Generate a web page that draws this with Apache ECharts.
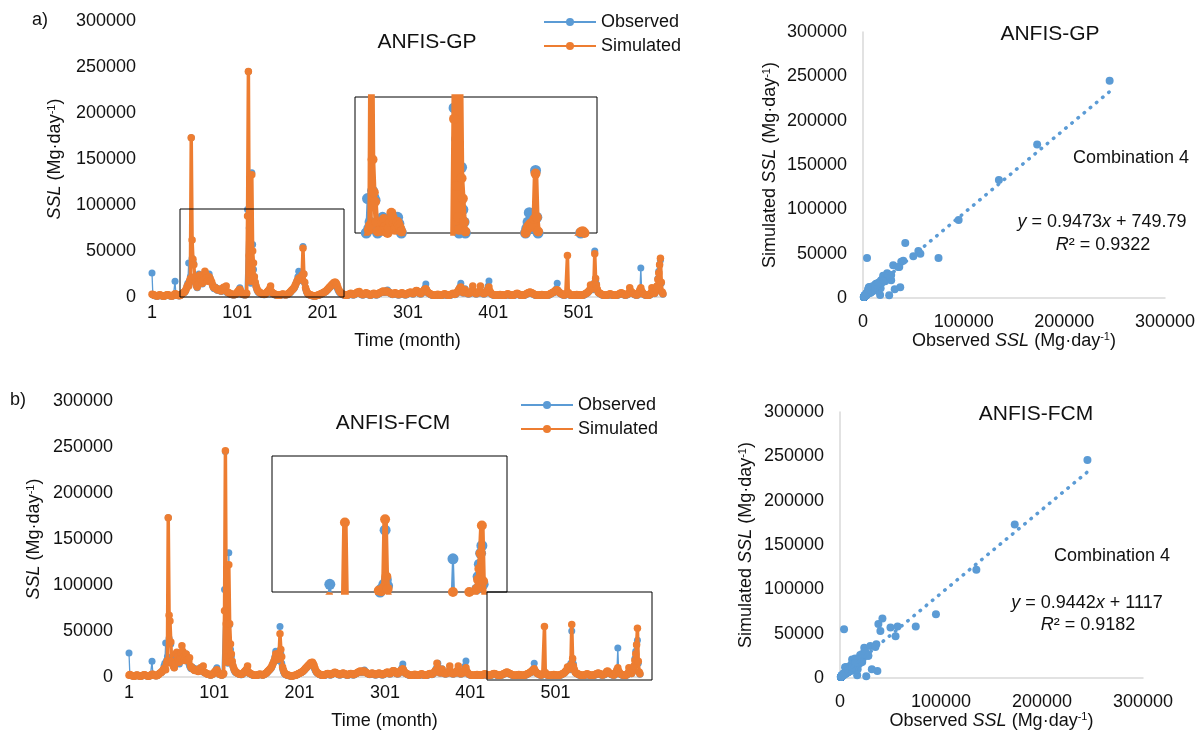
<!DOCTYPE html>
<html>
<head>
<meta charset="utf-8">
<script src="https://cdn.jsdelivr.net/npm/echarts@6/dist/echarts.min.js"></script>
<style>
  html, body { margin: 0; padding: 0; background: #fff; }
  #main { width: 1202px; height: 731px; }
</style>
</head>
<body>
<div id="main"></div>
<script>
// monthly suspended sediment load (Mg/day), month 1..600
const observed = [
  26000, 2500, 1800, 1500, 1200, 1000, 900, 1100, 1600, 2200, 1800, 1300, 1000, 900, 800, 1200, 1500, 2000, 2400, 1900,
  1500, 1200, 1000, 900, 1100, 1400, 2500, 17000, 3000, 2000, 1500, 1300, 1200, 1500, 2200, 3000, 4000, 4500, 5000, 6000,
  8000, 12000, 15000, 37000, 18000, 22000, 173000, 42000, 38000, 36000, 20000, 15000, 12000, 10000, 14000, 25000, 22000, 18000, 16000, 14000,
  17000, 20000, 24000, 26000, 22000, 18000, 20000, 25000, 21000, 17000, 15000, 12000, 10000, 9000, 11000, 10000, 8000, 7000, 9000, 8000,
  7000, 6000, 6500, 9000, 10000, 8000, 7000, 6000, 5000, 4500, 4000, 3500, 3000, 2800, 2500, 2300, 2000, 2500, 3000, 4000,
  5000, 6000, 8000, 10000, 6000, 4000, 3000, 2500, 2200, 2000, 2500, 3500, 95000, 245000, 75000, 20000, 15000, 135000, 57000, 30000,
  22000, 15000, 11000, 8000, 6000, 5000, 4500, 4000, 3500, 3000, 2800, 2500, 2500, 3000, 4000, 5000, 6000, 7000, 8000, 6000,
  5000, 4000, 3500, 3000, 2500, 2000, 1800, 1600, 1500, 1500, 1800, 2000, 2500, 3000, 2800, 2500, 2200, 2000, 2500, 3000,
  3500, 4000, 5000, 6000, 7000, 8000, 9000, 10000, 12000, 15000, 18000, 22000, 28000, 22000, 18000, 20000, 25000, 55000, 25000, 15000,
  9000, 6000, 4000, 3000, 2500, 2000, 1800, 1500, 1200, 1000, 1000, 900, 1100, 1300, 1500, 1800, 2000, 2500, 3000, 3500,
  4000, 4500, 5000, 5500, 6000, 7000, 8000, 9000, 10000, 11000, 12000, 13000, 14000, 15000, 14000, 13000, 12000, 10000, 8000, 6000,
  5000, 4000, 3500, 3000, 2500, 2000, 1800, 1500, 1500, 1800, 2000, 2500, 3000, 3500, 3000, 2500, 2000, 2500, 3000, 3500,
  4000, 5000, 4500, 4000, 3500, 3000, 2500, 2000, 2500, 3000, 3500, 4000, 3500, 3000, 2500, 2000, 1800, 2000, 2500, 3000,
  3500, 3000, 2500, 2000, 2500, 3000, 3500, 4000, 4500, 5000, 5500, 6000, 5500, 5000, 6000, 7000, 7600, 6000, 5000, 4000,
  3500, 3000, 2500, 3000, 3500, 4000, 3500, 3000, 2500, 2000, 2500, 3000, 3500, 4000, 3500, 3000, 2500, 2000, 2500, 3000,
  3500, 4000, 4500, 5000, 4000, 3500, 3000, 4000, 5000, 6000, 7000, 6000, 5000, 4000, 3500, 3000, 4000, 5000, 6000, 8000,
  10000, 14000, 8000, 5000, 4000, 3500, 3000, 2500, 2000, 1800, 1600, 1500, 1500, 1800, 2000, 2500, 2000, 1800, 1500, 1600,
  1800, 2000, 2500, 3000, 2500, 2000, 1800, 1600, 1500, 1800, 2000, 2500, 3000, 3500, 3000, 2500, 3000, 4000, 5000, 7000,
  9000, 11000, 15000, 8000, 5000, 4000, 6000, 9000, 5000, 4000, 3500, 3000, 3500, 4000, 5000, 6000, 8000, 6000, 4000, 3500,
  3000, 3500, 4000, 5000, 6000, 7000, 5000, 4000, 3500, 3000, 3500, 4000, 5000, 8000, 12000, 17500, 6000, 4000, 3000, 2500,
  2000, 1800, 1600, 1500, 1500, 1600, 1800, 2000, 2200, 2000, 1800, 1600, 1500, 1500, 1800, 2000, 2500, 3000, 2500, 2000,
  1800, 1600, 1500, 1500, 1800, 2000, 2500, 3000, 3500, 3000, 2500, 2000, 1800, 1600, 1500, 1500, 1800, 2000, 2500, 3000,
  3500, 4000, 4500, 5000, 4500, 4000, 3500, 3000, 2500, 2000, 1800, 1600, 1500, 1500, 1600, 1800, 2000, 2200, 2000, 1800,
  1600, 1500, 1500, 1600, 1800, 2000, 2500, 3000, 3500, 4000, 4500, 5000, 6000, 7000, 9000, 15000, 7000, 5000, 4000, 3500,
  3000, 2500, 2000, 1800, 2000, 2500, 3000, 4000, 3000, 2500, 2000, 1800, 1600, 1500, 1500, 1600, 1800, 2000, 2200, 2000,
  1800, 1600, 1500, 1500, 1600, 1800, 2000, 2500, 3000, 3500, 4000, 5000, 6000, 7000, 9000, 10000, 12000, 8000, 15000, 50000,
  18000, 14000, 8000, 5000, 4000, 3500, 3000, 2500, 2000, 1800, 1600, 1500, 1500, 1600, 1800, 2000, 2500, 3000, 2500, 2000,
  1800, 1600, 1500, 1500, 1600, 1800, 2000, 2500, 3000, 3500, 4000, 3500, 3000, 2500, 2000, 1800, 2000, 2500, 3000, 4000,
  5000, 6000, 5000, 4000, 3500, 3000, 2500, 2000, 1800, 2000, 3000, 5000, 8000, 31500, 6000, 4000, 3000, 2500, 2000, 1800,
  1600, 1500, 1500, 1800, 2500, 4000, 6000, 5000, 4000, 3500, 5000, 8000, 12000, 20000, 28000, 35000, 40000, 15000, 5000, 3000
];

const simulatedGP = [
  3000, 2800, 2200, 1800, 1500, 1300, 1200, 1300, 1800, 2400, 2000, 1600, 1300, 1200, 1100, 1400, 1700, 2200, 2500, 2100,
  1800, 1500, 1300, 1200, 1300, 1600, 2600, 3500, 3200, 2300, 1800, 1600, 1500, 1700, 2400, 3200, 4200, 4800, 5500, 6500,
  8500, 11000, 13000, 12000, 17000, 20000, 173000, 62000, 41000, 35000, 22000, 16000, 13000, 11000, 13000, 22000, 24000, 19000, 17000, 15000,
  18000, 22000, 28000, 25000, 21000, 17000, 19000, 22000, 20000, 18000, 16000, 13000, 11000, 10000, 10000, 9500, 8500, 7500, 8500, 8000,
  7500, 6500, 7000, 9500, 10500, 9000, 8000, 12000, 6000, 5000, 4500, 4000, 3500, 3000, 2800, 2600, 2400, 2800, 3300, 4200,
  5200, 6200, 7500, 8500, 6500, 4500, 3500, 3000, 2600, 2400, 2800, 4000, 88000, 245000, 45000, 25000, 17000, 133000, 50000, 37000,
  22000, 16000, 12000, 9000, 7000, 6000, 5000, 4500, 4000, 3500, 3200, 3000, 3000, 3500, 4500, 5500, 6500, 7500, 9000, 12000,
  6000, 4500, 4000, 3500, 3000, 2600, 2300, 2000, 1900, 1900, 2100, 2400, 2800, 3200, 3000, 2800, 2500, 2400, 2800, 3300,
  3800, 4500, 5500, 6500, 7500, 8500, 9500, 11000, 13000, 15000, 17000, 19000, 20000, 21000, 19000, 20000, 24000, 53000, 25000, 16000,
  10000, 7000, 5000, 3500, 3000, 2500, 2200, 1900, 1600, 1400, 1300, 1200, 1400, 1600, 1800, 2100, 2400, 2900, 3400, 3900,
  4300, 4800, 5300, 5800, 6500, 7500, 8500, 9500, 10500, 11500, 12500, 13500, 14500, 15500, 16000, 16000, 15000, 13000, 10000, 7500,
  6000, 5000, 4000, 3500, 3000, 2500, 2200, 2000, 2000, 2200, 2500, 3000, 3500, 4000, 3500, 3000, 2500, 3000, 3500, 4000,
  4500, 5500, 5000, 6000, 4000, 3500, 3000, 2500, 3000, 3500, 4000, 4500, 4000, 3500, 3000, 2500, 2300, 2500, 3000, 3500,
  4000, 3500, 3000, 2500, 3000, 3500, 4000, 4500, 5000, 5500, 6000, 6500, 6000, 5500, 6000, 6500, 6000, 5500, 5000, 4500,
  4000, 3500, 3000, 3500, 4000, 4500, 4000, 3500, 3000, 2500, 3000, 3500, 4000, 4500, 4000, 3500, 3000, 2500, 3000, 3500,
  4000, 4500, 5000, 5500, 4500, 4000, 3500, 4500, 5500, 6500, 7000, 6500, 5500, 4500, 4000, 3500, 4500, 5500, 6500, 7500,
  8500, 9000, 7000, 5500, 4500, 4000, 3500, 3000, 2500, 2300, 2100, 2000, 2000, 2300, 2500, 3000, 2500, 2300, 2000, 2100,
  2300, 2500, 3000, 3500, 3000, 2500, 2300, 2100, 2000, 2300, 2500, 3000, 3500, 4000, 3500, 3000, 3500, 4500, 5500, 7000,
  8500, 10000, 11000, 7500, 5500, 4500, 6000, 8000, 5500, 4500, 4000, 3500, 4000, 4500, 5500, 6500, 12000, 6500, 4500, 4000,
  3500, 4000, 4500, 5500, 6500, 12000, 5500, 4500, 4000, 3500, 4000, 4500, 5500, 7000, 9000, 11000, 6500, 4500, 3500, 3000,
  2500, 2300, 2100, 2000, 2000, 2100, 2300, 2500, 2700, 2500, 2300, 2100, 2000, 2000, 2300, 2500, 3000, 3500, 3000, 2500,
  2300, 2100, 2000, 2000, 2300, 2500, 3000, 3500, 4000, 3500, 3000, 2500, 2300, 2100, 2000, 2000, 2300, 2500, 3000, 3500,
  4000, 4500, 5000, 5500, 5000, 4500, 4000, 3500, 3000, 2500, 2300, 2100, 2000, 2000, 2100, 2300, 2500, 2700, 2500, 2300,
  2100, 2000, 2000, 2100, 2300, 2500, 3000, 3500, 4000, 4500, 5000, 5500, 6500, 7000, 7500, 8000, 6500, 5500, 4500, 4000,
  3500, 3000, 2500, 2300, 2500, 3000, 3500, 45000, 5000, 3000, 2500, 2300, 2100, 2000, 2000, 2100, 2300, 2500, 2700, 2500,
  2300, 2100, 2000, 2000, 2100, 2300, 2500, 3000, 3500, 4000, 4500, 5500, 6500, 7500, 13000, 10000, 11000, 9000, 14000, 47000,
  20000, 13000, 8500, 5500, 4500, 4000, 3500, 3000, 2500, 2300, 2100, 2000, 2000, 2100, 2300, 2500, 3000, 3500, 3000, 2500,
  2300, 2100, 2000, 2000, 2100, 2300, 2500, 3000, 3500, 4000, 4500, 4000, 3500, 3000, 2500, 2300, 2500, 3000, 3500, 4500,
  10000, 6500, 5500, 4500, 4000, 3500, 3000, 2500, 2300, 2500, 3500, 5500, 8000, 10000, 6500, 4500, 3500, 3000, 2500, 2300,
  2100, 2000, 2000, 2300, 3000, 4500, 10000, 5500, 4500, 4000, 5500, 8500, 12000, 19000, 26000, 35000, 42000, 16000, 5500, 3500
];

const simulatedFCM = [
  2000, 2600, 2000, 1700, 1400, 1200, 1100, 1200, 1700, 2300, 1900, 1500, 1200, 1100, 1000, 1300, 1600, 2100, 2400, 2000,
  1700, 1400, 1200, 1100, 1200, 1500, 2500, 3000, 3000, 2200, 1700, 1500, 1400, 1600, 2300, 3100, 4000, 4600, 5200, 6200,
  7500, 9000, 10000, 8000, 15000, 18000, 173000, 67000, 61000, 38000, 17000, 14000, 12000, 10000, 14000, 25000, 27000, 22000, 18000, 16000,
  20000, 26000, 34000, 28000, 22000, 18000, 21000, 25000, 22000, 19000, 17000, 21000, 12000, 10000, 10000, 9000, 8000, 7000, 8000, 7500,
  7000, 6000, 6500, 9000, 10000, 8500, 7500, 12000, 5500, 4800, 4200, 3800, 3300, 2900, 2700, 2500, 2300, 2700, 3200, 4000,
  5000, 6000, 7200, 8000, 6200, 4300, 3300, 2800, 2500, 2300, 2700, 3800, 72000, 246000, 58000, 22000, 16000, 122000, 58000, 36000,
  25000, 17000, 12000, 9000, 7000, 5800, 5000, 4400, 3900, 3400, 3100, 2900, 2900, 3400, 4400, 5400, 6400, 7400, 8800, 12000,
  5800, 4400, 3900, 3400, 2900, 2500, 2200, 1900, 1800, 1800, 2000, 2300, 2700, 3100, 2900, 2700, 2400, 2300, 2700, 3200,
  3700, 4400, 5400, 6400, 7400, 8400, 9400, 11000, 13000, 15000, 17000, 20000, 25000, 22000, 19000, 21000, 26000, 47000, 30000, 22000,
  11000, 7500, 5200, 3600, 3000, 2500, 2100, 1800, 1500, 1300, 1200, 1100, 1300, 1500, 1700, 2000, 2300, 2800, 3300, 3800,
  4200, 4700, 5200, 5700, 6400, 7400, 8400, 9400, 10400, 11400, 12400, 13400, 14400, 15400, 15800, 16000, 14500, 12500, 9500, 7200,
  5500, 4600, 3800, 3300, 2800, 2400, 2100, 1900, 1900, 2100, 2400, 2900, 3400, 3900, 3400, 2900, 2400, 2900, 3400, 3900,
  4400, 5200, 4800, 4300, 3800, 3300, 2900, 2400, 2900, 3400, 3900, 4400, 3900, 3400, 2900, 2400, 2200, 2400, 2900, 3400,
  3900, 3400, 2900, 2400, 2900, 3400, 3900, 4400, 4900, 5400, 5900, 6400, 5900, 5400, 5900, 6400, 6200, 5400, 4900, 4400,
  3900, 3400, 2900, 3400, 3900, 4400, 3900, 3400, 2900, 2400, 2900, 3400, 3900, 4400, 3900, 3400, 2900, 2400, 2900, 3400,
  3900, 4400, 4900, 5400, 4400, 3900, 3400, 4400, 5400, 6400, 6800, 6400, 5400, 4400, 3900, 3400, 4400, 5400, 6400, 7400,
  8200, 9000, 6800, 5400, 4400, 3900, 3400, 2900, 2400, 2200, 2000, 1900, 1900, 2200, 2400, 2900, 2400, 2200, 1900, 2000,
  2200, 2400, 2900, 3400, 2900, 2400, 2200, 2000, 1900, 2200, 2400, 2900, 3400, 3900, 3400, 2900, 3400, 4400, 5400, 6800,
  8000, 15000, 10000, 7000, 5200, 4300, 6000, 8500, 5200, 4300, 3800, 3400, 3800, 4300, 5200, 6200, 12000, 6200, 4300, 3800,
  3400, 3800, 4300, 5200, 6200, 7000, 12000, 4500, 3800, 3400, 3800, 4300, 5200, 6500, 8500, 10000, 6200, 4300, 3400, 2900,
  2400, 2200, 2000, 1900, 1900, 2000, 2200, 2400, 2600, 2400, 2200, 2000, 1900, 1900, 2200, 2400, 2900, 3400, 2900, 2400,
  2200, 2000, 1900, 1900, 2200, 2400, 2900, 3400, 3900, 3400, 2900, 2400, 2200, 2000, 1900, 1900, 2200, 2400, 2900, 3400,
  3900, 4400, 4900, 5400, 4900, 4400, 3900, 3400, 2900, 2400, 2200, 2000, 1900, 1900, 2000, 2200, 2400, 2600, 2400, 2200,
  2000, 1900, 1900, 2000, 2200, 2400, 2900, 3400, 3900, 4400, 4900, 5400, 6400, 7000, 7800, 9000, 6400, 5400, 4400, 3900,
  3400, 2900, 2400, 2200, 2400, 2900, 3400, 55000, 4800, 2900, 2400, 2200, 2000, 1900, 1900, 2000, 2200, 2400, 2600, 2400,
  2200, 2000, 1900, 1900, 2000, 2200, 2400, 2900, 3400, 3900, 4400, 5400, 6400, 7400, 11000, 9500, 10500, 8800, 13000, 57000,
  20000, 12000, 8200, 5400, 4400, 3900, 3400, 2900, 2400, 2200, 2000, 1900, 1900, 2000, 2200, 2400, 2900, 3400, 2900, 2400,
  2200, 2000, 1900, 1900, 2000, 2200, 2400, 2900, 3400, 3900, 4400, 3900, 3400, 2900, 2400, 2200, 2400, 2900, 3400, 4400,
  6000, 6400, 5400, 4400, 3900, 3400, 2900, 2400, 2200, 2400, 3400, 5400, 7800, 10000, 6400, 4400, 3400, 2900, 2400, 2200,
  2000, 1900, 1900, 2200, 2900, 4400, 10000, 5400, 4400, 3900, 5400, 8200, 12000, 18000, 25000, 35000, 53000, 17000, 5400, 3400
];

// linear trend lines as printed on the scatter panels
const trendGP = { slope: 0.9473, intercept: 749.79 };
const trendFCM = { slope: 0.9442, intercept: 1117 };
const trendXRange = [0, 245000];

const FONT = '"Liberation Sans", Arial, sans-serif';
const BLUE = '#5B9BD5';
const ORANGE = '#ED7D31';
const TXT = '#111';

const chart = echarts.init(document.getElementById('main'));

const toPairs = arr => arr.map((v, i) => [i, v]);
const obsPairs = toPairs(observed);
const gpPairs = toPairs(simulatedGP);
const fcmPairs = toPairs(simulatedFCM);

const supRich = {
    i: { fontStyle: 'italic', fontSize: 18, fontFamily: FONT, color: TXT },
    n: { fontSize: 18, fontFamily: FONT, color: TXT },
    s: { fontSize: 11, fontFamily: FONT, color: TXT, verticalAlign: 'top', padding: [0, 0, 6, 0] }
};

const ssl = '{i|SSL}{n| (Mg·day}{s|-1}{n|)}';

function timeX(gridIndex, show) {
    return {
        type: 'value', gridIndex: gridIndex, min: 0, max: 599, interval: 100,
        name: show ? 'Time (month)' : '', nameLocation: 'middle', nameGap: 35,
        nameTextStyle: { fontSize: 18, fontFamily: FONT, color: TXT },
        axisLine: { show: show, lineStyle: { color: '#D9D9D9', width: 1.5 } },
        axisTick: { show: false },
        splitLine: { show: false },
        axisLabel: {
            show: show, fontSize: 18, fontFamily: FONT, color: TXT, margin: 7,
            formatter: v => (v % 100 === 0 ? String(v + 1) : '')
        }
    };
}

function timeY(gridIndex, nameGap) {
    return {
        type: 'value', gridIndex: gridIndex, min: 0, max: 300000, interval: 50000,
        name: ssl, nameLocation: 'middle', nameGap: nameGap,
        nameTextStyle: { rich: supRich },
        axisLine: { show: false }, axisTick: { show: false }, splitLine: { show: false },
        axisLabel: { fontSize: 18, fontFamily: FONT, color: TXT, margin: 16, formatter: v => String(v) }
    };
}

function insetX(gridIndex, min, max) {
    return { type: 'value', gridIndex: gridIndex, min: min, max: max, show: false, splitLine: { show: false } };
}

function insetY(gridIndex, min, max) {
    return { type: 'value', gridIndex: gridIndex, min: min, max: max, show: false, splitLine: { show: false } };
}

function scatterX(gridIndex) {
    return {
        type: 'value', gridIndex: gridIndex, min: 0, max: 300000, interval: 100000,
        name: '{n|Observed }' + ssl, nameLocation: 'middle', nameGap: 33,
        nameTextStyle: { rich: supRich },
        axisLine: { lineStyle: { color: '#D9D9D9', width: 1.5 } },
        axisTick: { show: false }, splitLine: { show: false },
        axisLabel: { fontSize: 18, fontFamily: FONT, color: TXT, margin: 15, formatter: v => String(v) }
    };
}

function scatterY(gridIndex, nameGap) {
    return {
        type: 'value', gridIndex: gridIndex, min: 0, max: 300000, interval: 50000,
        name: '{n|Simulated }' + ssl, nameLocation: 'middle', nameGap: nameGap,
        nameTextStyle: { rich: supRich },
        axisLine: { show: true, lineStyle: { color: '#D9D9D9', width: 1.5 } },
        axisTick: { show: false }, splitLine: { show: false },
        axisLabel: { fontSize: 18, fontFamily: FONT, color: TXT, margin: 16, formatter: v => String(v) }
    };
}

function obsLine(axisIndex, big) {
    return {
        name: 'Observed', type: 'line', xAxisIndex: axisIndex, yAxisIndex: axisIndex,
        data: obsPairs, symbol: 'circle', symbolSize: big ? 11 : 7,
        showSymbol: true, showAllSymbol: true,
        lineStyle: { color: BLUE, width: big ? 2 : 1.3 }, itemStyle: { color: BLUE },
        z: big ? 6 : 2, animation: false
    };
}

function simLine(axisIndex, data, big) {
    return {
        name: 'Simulated', type: 'line', xAxisIndex: axisIndex, yAxisIndex: axisIndex,
        data: data, symbol: 'circle', symbolSize: big ? 10 : 7.5,
        showSymbol: true, showAllSymbol: true,
        lineStyle: { color: ORANGE, width: big ? 5.5 : 3.5 }, itemStyle: { color: ORANGE },
        z: big ? 7 : 3, animation: false
    };
}

function scatterSeries(axisIndex, sim) {
    return {
        name: 'pairs' + axisIndex, type: 'scatter', xAxisIndex: axisIndex, yAxisIndex: axisIndex,
        data: observed.map((v, i) => [v, sim[i]]),
        symbolSize: 8, itemStyle: { color: BLUE, opacity: 1 }, animation: false
    };
}

function trendSeries(axisIndex, t) {
    return {
        name: 'trend' + axisIndex, type: 'line', xAxisIndex: axisIndex, yAxisIndex: axisIndex,
        data: trendXRange.map(x => [x, t.slope * x + t.intercept]),
        showSymbol: false, symbol: 'none',
        lineStyle: { color: BLUE, width: 3.5, type: [0.5, 7.5], cap: 'round' },
        animation: false
    };
}

function label(x, y, text, size, align) {
    return {
        type: 'text', x: x, y: y, z: 20,
        style: {
            text: text, fontSize: size, fontFamily: FONT, fill: TXT,
            align: align || 'center', verticalAlign: 'middle'
        }
    };
}

function richLabel(x, y, text) {
    return {
        type: 'text', x: x, y: y, z: 20,
        style: {
            text: text, align: 'center', verticalAlign: 'middle',
            fontSize: 18, fontFamily: FONT, fill: TXT,
            rich: {
                i: { fontStyle: 'italic', fontSize: 18, fontFamily: FONT, fill: TXT }
            }
        }
    };
}

function box(x, y, w, h) {
    return {
        type: 'rect', z: 20, shape: { x: x, y: y, width: w, height: h },
        style: { fill: null, stroke: '#000', lineWidth: 1 }
    };
}

const legendBase = {
    data: ['Observed', 'Simulated'], orient: 'vertical',
    itemWidth: 52, itemHeight: 10, itemGap: 6, selectedMode: false,
    textStyle: { fontSize: 18, fontFamily: FONT, color: TXT }
};

const option = {
    backgroundColor: '#fff',
    animation: false,
    grid: [
        { left: 152, top: 21, width: 511, height: 276 },
        { left: 355, top: 97, width: 242, height: 136, show: true, backgroundColor: '#fff', borderColor: '#000', borderWidth: 1, z: 5 },
        { left: 129, top: 401, width: 511, height: 276 },
        { left: 272, top: 456, width: 235, height: 136, show: true, backgroundColor: '#fff', borderColor: '#000', borderWidth: 1, z: 5 },
        { left: 863, top: 32, width: 302, height: 266 },
        { left: 840, top: 412, width: 303, height: 266 }
    ],
    xAxis: [
        timeX(0, true),
        insetX(1, 33, 226),
        timeX(2, true),
        insetX(3, 429, 616),
        scatterX(4),
        scatterX(5)
    ],
    yAxis: [
        timeY(0, 88),
        insetY(1, 15000, 102000),
        timeY(2, 86),
        insetY(3, 10000, 98000),
        scatterY(4, 84),
        scatterY(5, 85)
    ],
    legend: [
        Object.assign({ left: 538, top: 8 }, legendBase),
        Object.assign({ left: 515, top: 391 }, legendBase)
    ],
    series: [
        obsLine(0, false), simLine(0, gpPairs, false),
        obsLine(1, true), simLine(1, gpPairs, true),
        obsLine(2, false), simLine(2, fcmPairs, false),
        obsLine(3, true), simLine(3, fcmPairs, true),
        scatterSeries(4, simulatedGP), trendSeries(4, trendGP),
        scatterSeries(5, simulatedFCM), trendSeries(5, trendFCM)
    ],
    graphic: [
        label(32, 20, 'a)', 18, 'left'),
        label(10, 400, 'b)', 18, 'left'),
        label(427, 42, 'ANFIS-GP', 21),
        label(393, 423, 'ANFIS-FCM', 21),
        label(1050, 34, 'ANFIS-GP', 21),
        label(1036, 414, 'ANFIS-FCM', 21),
        label(1131, 158, 'Combination 4', 18),
        label(1112, 556, 'Combination 4', 18),
        richLabel(1102, 222, '{i|y} = 0.9473{i|x} + 749.79'),
        richLabel(1103, 245, '{i|R}² = 0.9322'),
        richLabel(1087, 603, '{i|y} = 0.9442{i|x} + 1117'),
        richLabel(1088, 625, '{i|R}² = 0.9182'),
        box(180, 209, 164, 88),
        box(487, 592, 165, 88)
    ]
};

chart.setOption(option);
</script>
</body>
</html>
